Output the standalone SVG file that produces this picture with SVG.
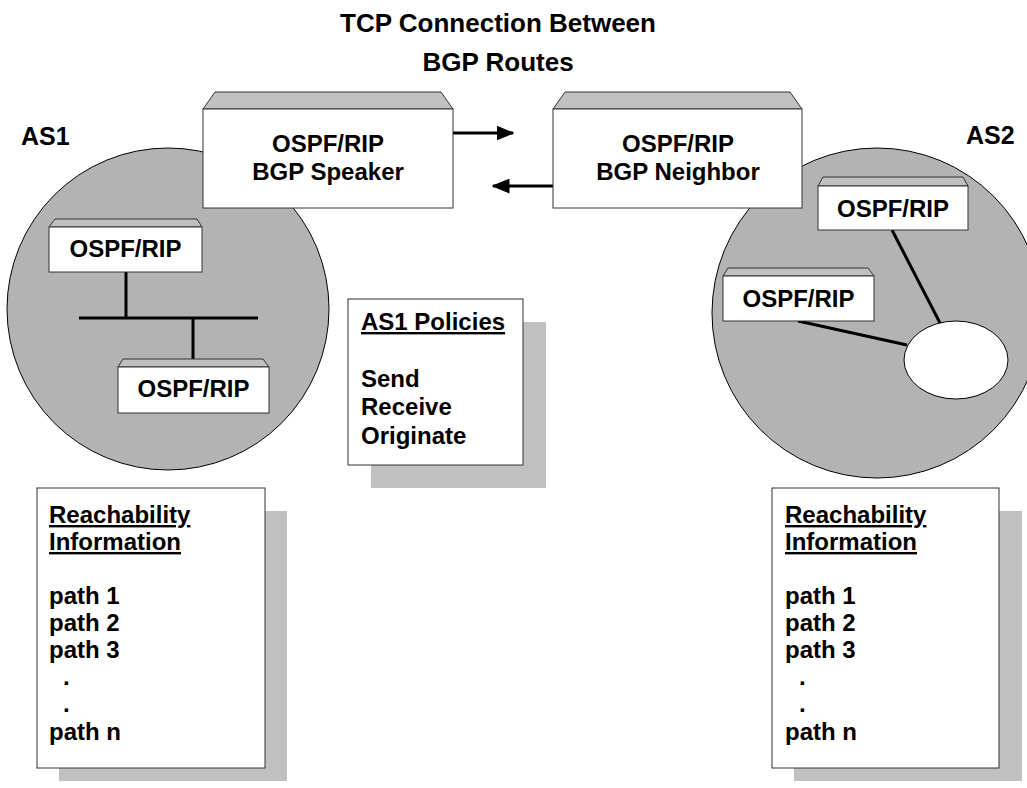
<svg xmlns="http://www.w3.org/2000/svg" width="1027" height="788" viewBox="0 0 1027 788">
<style>
text{font-family:"Liberation Sans",Arial,sans-serif;font-weight:bold;fill:#000;font-size:24px}
.c{text-anchor:middle}
.u{text-decoration:underline}
.t{font-size:26px}
.as{font-size:25px}
.front{fill:#fff;stroke:#333;stroke-width:1}
.top{fill:#c0c0c0;stroke:#333;stroke-width:1}
.shadow{fill:#c0c0c0}
.area{fill:#b3b3b3;stroke:#000;stroke-width:1}
.link{stroke:#000;stroke-width:3;fill:none}
</style>
<defs>
<marker id="ah" markerWidth="6" markerHeight="5" refX="5.5" refY="2.5" orient="auto" markerUnits="strokeWidth">
<path d="M0,0 L6,2.5 L0,5 Z" fill="#000"/>
</marker>
</defs>
<rect width="1027" height="788" fill="#fff"/>

<g id="title">
<text class="c t" x="498" y="32">TCP Connection Between</text>
<text class="c t" x="498" y="71">BGP Routes</text>
</g>

<g id="as1">
<circle class="area" cx="168" cy="309" r="161"/>
<text class="as" x="21" y="145">AS1</text>
</g>
<g id="as2">
<circle class="area" cx="877" cy="313" r="165"/>
<text class="as" x="966" y="144">AS2</text>
</g>

<g id="connectors">
<line class="link" x1="126" y1="272" x2="126" y2="318"/>
<line class="link" x1="79" y1="318" x2="258" y2="318"/>
<line class="link" x1="193" y1="318" x2="193" y2="367"/>
<line class="link" x1="892" y1="230" x2="940" y2="323"/>
<line class="link" x1="798" y1="321" x2="907" y2="345"/>
<line class="link" x1="453" y1="133" x2="513" y2="133" marker-end="url(#ah)"/>
<line class="link" x1="553" y1="186" x2="493" y2="186" marker-end="url(#ah)"/>
</g>

<g id="speaker">
<polygon class="top" points="203,109 215,92 441,92 453,109"/>
<rect class="front" x="203" y="109" width="250" height="99"/>
<text class="c" x="328" y="152">OSPF/RIP</text>
<text class="c" x="328" y="180">BGP Speaker</text>
</g>

<g id="neighbor">
<polygon class="top" points="553,109 565,92 790,92 802,109"/>
<rect class="front" x="553" y="109" width="249" height="99"/>
<text class="c" x="678" y="152">OSPF/RIP</text>
<text class="c" x="678" y="180">BGP Neighbor</text>
</g>

<g id="as1-router1">
<polygon class="top" points="49,227 55,219 197,219 202,227"/>
<rect class="front" x="49" y="227" width="153" height="45"/>
<text class="c" x="125.5" y="257">OSPF/RIP</text>
</g>
<g id="as1-router2">
<polygon class="top" points="118,367 123,359 263,359 269,367"/>
<rect class="front" x="118" y="367" width="151" height="46"/>
<text class="c" x="193.5" y="397">OSPF/RIP</text>
</g>

<g id="as2-router1">
<polygon class="top" points="818,186 823,177 963,177 968,186"/>
<rect class="front" x="818" y="186" width="150" height="44"/>
<text class="c" x="893" y="217">OSPF/RIP</text>
</g>
<g id="as2-router2">
<polygon class="top" points="723,276 728,268 868,268 874,276"/>
<rect class="front" x="723" y="276" width="151" height="45"/>
<text class="c" x="798.5" y="307">OSPF/RIP</text>
</g>
<g id="as2-net">
<ellipse cx="956" cy="360" rx="52" ry="39" fill="#fff" stroke="#000" stroke-width="1"/>
</g>

<g id="policies">
<rect class="shadow" x="371" y="322" width="175" height="166"/>
<rect class="front" x="348" y="299" width="175" height="166"/>
<text class="u" x="361" y="330">AS1 Policies</text>
<text x="361" y="387">Send</text>
<text x="361" y="415">Receive</text>
<text x="361" y="444">Originate</text>
</g>

<g id="reach1">
<rect class="shadow" x="59" y="511" width="228" height="270"/>
<rect class="front" x="37" y="488" width="228" height="280"/>
<text class="u" x="49" y="523">Reachability</text>
<text class="u" x="49" y="550">Information</text>
<text x="49" y="604">path 1</text>
<text x="49" y="631">path 2</text>
<text x="49" y="658">path 3</text>
<text x="63" y="685">.</text>
<text x="63" y="712">.</text>
<text x="49" y="740">path n</text>
</g>

<g id="reach2">
<rect class="shadow" x="794" y="511" width="228" height="270"/>
<rect class="front" x="772" y="488" width="227" height="280"/>
<text class="u" x="785" y="523">Reachability</text>
<text class="u" x="785" y="550">Information</text>
<text x="785" y="604">path 1</text>
<text x="785" y="631">path 2</text>
<text x="785" y="658">path 3</text>
<text x="799" y="685">.</text>
<text x="799" y="712">.</text>
<text x="785" y="740">path n</text>
</g>
</svg>
